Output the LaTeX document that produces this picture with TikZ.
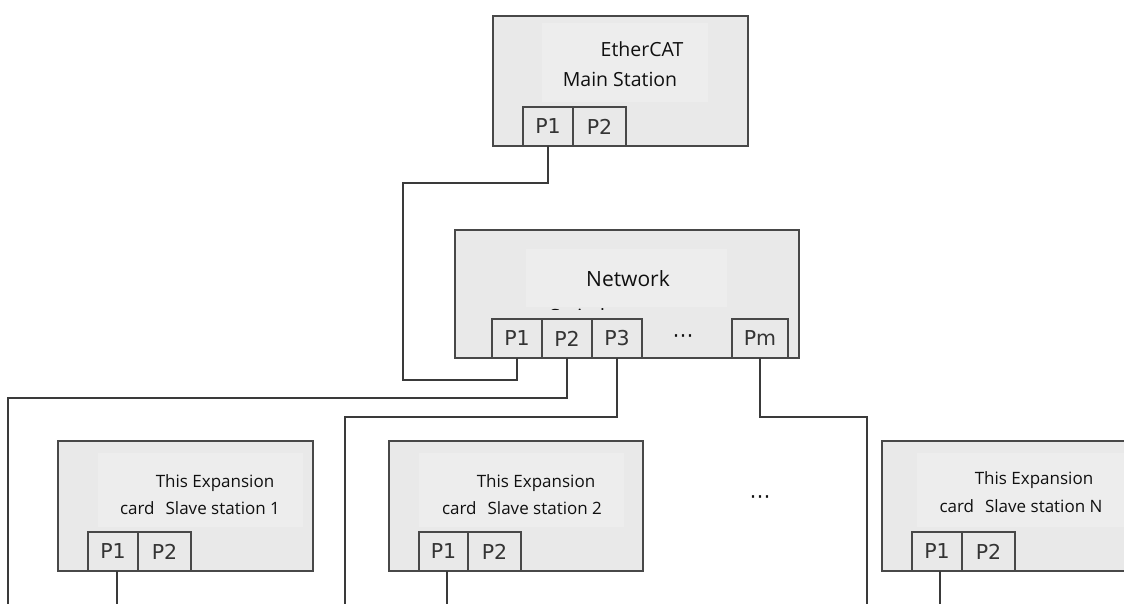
\documentclass[tikz,border=0pt]{standalone}
\usepackage{fontspec}
\setmainfont{Open Sans}
\newfontfamily\portfont{DejaVu Sans}
\definecolor{boxfill}{HTML}{E9E9E9}
\definecolor{innerfill}{HTML}{EDEDED}
\definecolor{edge}{HTML}{484848}
\definecolor{wire}{HTML}{3A3A3A}
\definecolor{ink}{HTML}{101010}
\begin{document}
\begin{tikzpicture}[x=1pt,y=-1pt,
  unit/.style={draw=edge, fill=boxfill, line width=1.4pt, anchor=north west, inner sep=0pt, outer sep=0pt},
  panel/.style={fill=innerfill, draw=none, anchor=north west, inner sep=0pt},
  port/.style={draw=edge, fill=boxfill, line width=1.3pt, inner sep=0pt, outer sep=0pt,
    minimum height=39pt, anchor=south west, font=\portfont\fontsize{20.5}{22}\selectfont, text=ink!85},
  label/.style={anchor=base, inner sep=0pt, text=ink},
  mainlabel/.style={label, font=\fontsize{19.5}{22}\selectfont},
  swlabel/.style={label, font=\fontsize{21}{24}\selectfont},
  cardlabel/.style={label, font=\fontsize{17}{20}\selectfont},
  wire/.style={draw=wire, line width=1.2pt},
  dots/.style={inner sep=0pt, text=ink, font=\portfont\fontsize{21}{22}\selectfont}]
\clip (0,0) rectangle (1124,604);
\fill[white] (0,0) rectangle (1124,604);

% EtherCAT master
\node[unit, minimum width=255pt, minimum height=130pt] (main) at (493,16) {};
\node[panel, minimum width=166pt, minimum height=79pt] (mainpanel) at (542,23) {};
\node[mainlabel] (maint1) at (642,57) {EtherCAT};
\node[mainlabel] (maint2) at (620,87) {Main Station};
\node[port, minimum width=50pt] (mp1) at (523,146) {P1};
\node[port, minimum width=53pt] (mp2) at (573,146) {P2};

% Network switch (second line of its label is hidden behind the port row)
\node[unit, minimum width=344pt, minimum height=128pt] (sw) at (455,230) {};
\node[panel, minimum width=201pt, minimum height=58pt] (swpanel) at (526,249) {};
\node[swlabel] (swt1) at (628,286) {Network};
\begin{scope}
  \clip (540,300) rectangle (740,309.5);
  \node[swlabel, anchor=base west] (swt2) at (549,324) {Switch};
\end{scope}
\node[port, minimum width=50pt] (np1) at (492,358) {P1};
\node[port, minimum width=50pt] (np2) at (542,358) {P2};
\node[port, minimum width=50pt] (np3) at (592,358) {P3};
\node[dots] (npdots) at (683,339) {⋯};
\node[port, minimum width=56pt] (npm) at (732,358) {Pm};

% Slave stations
\node[unit, minimum width=255pt, minimum height=130pt] (s1) at (58,441) {};
\node[panel, minimum width=205pt, minimum height=74pt] (s1panel) at (98,453) {};
\node[cardlabel] (s1t1) at (215,487) {This Expansion};
\node[cardlabel] (s1t2) at (200,514) {card\hspace{11pt}Slave station 1};
\node[port, minimum width=50pt] (s1p1) at (88,571) {P1};
\node[port, minimum width=53pt] (s1p2) at (138,571) {P2};

\node[unit, minimum width=254pt, minimum height=130pt] (s2) at (389,441) {};
\node[panel, minimum width=205pt, minimum height=74pt] (s2panel) at (419,453) {};
\node[cardlabel] (s2t1) at (536,487) {This Expansion};
\node[cardlabel] (s2t2) at (522,514) {card\hspace{11pt}Slave station 2};
\node[port, minimum width=49pt] (s2p1) at (419,571) {P1};
\node[port, minimum width=53pt] (s2p2) at (468,571) {P2};

\node[dots] (sdots) at (760,500) {⋯};

\node[unit, minimum width=260pt, minimum height=130pt] (sn) at (882,441) {};
\node[panel, minimum width=220pt, minimum height=74pt] (snpanel) at (917,453) {};
\node[cardlabel] (snt1) at (1034,484) {This Expansion};
\node[cardlabel] (snt2) at (1021,512) {card\hspace{11pt}Slave station N};
\node[port, minimum width=50pt] (snp1) at (912,571) {P1};
\node[port, minimum width=53pt] (snp2) at (962,571) {P2};

% Cabling
\coordinate (a1) at (403,183);
\coordinate (a2) at (517,380);
\draw[wire] (mp1.south) |- (a1) |- (a2) -- (np1.south);

\coordinate (b1) at (8,398);
\coordinate (b2) at (8,604);
\draw[wire] (np2.south) |- (b1) -- (b2);

\coordinate (c1) at (345,417);
\coordinate (c2) at (345,604);
\draw[wire] (np3.south) |- (c1) -- (c2);

\coordinate (d1) at (867,417);
\coordinate (d2) at (867,604);
\draw[wire] (npm.south) |- (d1) -- (d2);

\coordinate (e1) at (117,604);
\draw[wire] (s1p1.south -| e1) -- (e1);
\coordinate (e2) at (447,604);
\draw[wire] (s2p1.south -| e2) -- (e2);
\coordinate (e3) at (940,604);
\draw[wire] (snp1.south -| e3) -- (e3);
\end{tikzpicture}
\end{document}
